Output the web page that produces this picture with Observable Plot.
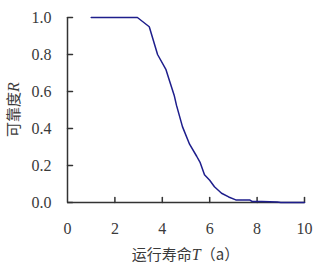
<!DOCTYPE html>
<html>
<head>
<meta charset="utf-8">
<script src="https://cdn.jsdelivr.net/npm/d3@7"></script>
<script src="https://cdn.jsdelivr.net/npm/@observablehq/plot@0.6"></script>
<style>
  html, body { margin: 0; padding: 0; background: #fff; }
  #chart svg { display: block; }
  #chart svg text { font-family: 'Liberation Serif', 'Times New Roman', serif !important; }
  #chart svg tspan.cjk { font-family: 'Noto Sans CJK SC', sans-serif !important; }
</style>
</head>
<body>
<div id="chart"></div>
<script>
const T = [1.0, 2.0, 2.95, 3.45, 3.8, 4.15, 4.3, 4.5, 4.6, 4.85, 5.15, 5.45, 5.6, 5.78, 6.0, 6.2, 6.5, 6.8, 7.1, 7.4, 7.7, 7.8, 8.2, 8.85, 9.0, 9.5, 10.0];
const R = [1.0, 1.0, 1.0, 0.95, 0.80, 0.72, 0.66, 0.58, 0.525, 0.41, 0.315, 0.25, 0.215, 0.15, 0.12, 0.085, 0.05, 0.03, 0.014, 0.013, 0.013, 0.005, 0.005, 0.003, 0.0, 0.0, 0.0];
const xTicks = [0, 2, 4, 6, 8, 10];
const yTicks = [0, 0.2, 0.4, 0.6, 0.8, 1.0];
const xLabel = "运行寿命";
const xVar = "T";
const xUnit = "（a）";
const yLabel = "可靠度";
const yVar = "R";

const data = T.map((t, i) => ({t, r: R[i]}));
const tickShape = {draw(ctx, l) { ctx.moveTo(0, 0); ctx.lineTo(0, -l); }};
const axisColor = "#333";
const textColor = "#3a3a3a";
const numFont = "'Liberation Serif', 'Times New Roman', serif";

const plot = Plot.plot({
  width: 329,
  height: 268,
  marginLeft: 67,
  marginRight: 25,
  marginTop: 17,
  marginBottom: 66,
  style: {fontFamily: numFont, background: "#fff"},
  x: {domain: [0, 10]},
  y: {domain: [0, 1]},
  marks: [
    Plot.axisX(xTicks, {tickSize: 0, tickPadding: 20, fontSize: 16, fontFamily: numFont, fill: textColor, label: null, tickFormat: d => String(d)}),
    Plot.axisY(yTicks, {tickSize: 0, tickPadding: 16, fontSize: 16, fontFamily: numFont, fill: textColor, label: null, tickFormat: d => d.toFixed(1)}),
    Plot.vector(xTicks.filter(d => d > 0), {x: d => d, y: 0, length: 5, rotate: 0, anchor: "start", shape: tickShape, stroke: axisColor, strokeWidth: 1.5}),
    Plot.vector(yTicks, {x: 0, y: d => d, length: 5, rotate: 90, anchor: "start", shape: tickShape, stroke: axisColor, strokeWidth: 1.5}),
    Plot.ruleX([0], {y1: 0, y2: 1, stroke: axisColor, strokeWidth: 1.5}),
    Plot.ruleY([0], {x1: 0, x2: 10, stroke: axisColor, strokeWidth: 1.5}),
    Plot.line(data, {x: "t", y: "r", stroke: "#1e1e8c", strokeWidth: 1.5})
  ]
});

const svg = d3.select(plot);
// x-axis title
const xt = svg.append("text")
  .attr("x", (67 + 304) / 2)
  .attr("y", 256)
  .attr("text-anchor", "middle")
  .attr("dominant-baseline", "middle")
  .attr("fill", textColor)
  .style("font-size", "16px");
xt.append("tspan").attr("class", "cjk").text(xLabel).style("font-size", "15px");
xt.append("tspan").text(xVar).style("font-style", "italic");
xt.append("tspan").attr("class", "cjk").text(xUnit).style("font-size", "15px");
// y-axis title
const yt = svg.append("text")
  .attr("transform", `translate(15, ${(17 + 202) / 2}) rotate(-90)`)
  .attr("text-anchor", "middle")
  .attr("dominant-baseline", "middle")
  .attr("fill", textColor)
  .style("font-size", "16px");
yt.append("tspan").attr("class", "cjk").text(yLabel).style("font-size", "15px");
yt.append("tspan").text(yVar).style("font-style", "italic");

document.getElementById("chart").appendChild(plot);
</script>
</body>
</html>
